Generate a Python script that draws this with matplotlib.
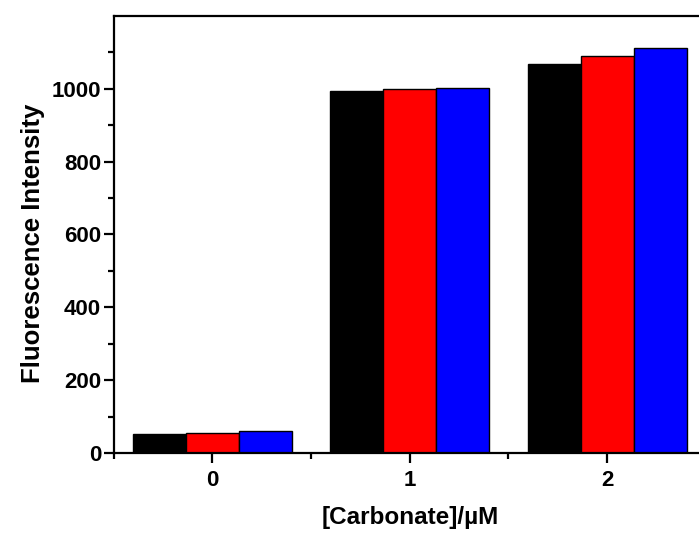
import matplotlib
matplotlib.use("Agg")
import matplotlib.pyplot as plt
import numpy as np

plt.rcParams['font.family'] = ['Liberation Sans', 'DejaVu Sans']
plt.rcParams['font.weight'] = 'bold'

categories = ["0", "1", "2"]
series_black = [52, 994, 1068]
series_red = [55, 999, 1090]
series_blue = [60, 1003, 1110]
colors = ["#000000", "#ff0000", "#0000ff"]

fig = plt.figure(figsize=(6.99, 5.35), dpi=100)
ax = fig.add_axes([0.1624, 0.1527, 0.8476, 0.818])

x = np.arange(len(categories))
w = 0.268
for i, (vals, c) in enumerate(zip([series_black, series_red, series_blue], colors)):
    ax.bar(x + (i - 1) * w, vals, width=w, color=c, edgecolor="black", linewidth=1.0)

ax.set_xlim(-0.5, 2.5)
ax.set_ylim(0, 1200)
ax.set_xticks(x)
ax.set_xticklabels(categories)
ax.set_xticks([-0.5, 0.5, 1.5, 2.5], minor=True)
ax.set_yticks([0, 200, 400, 600, 800, 1000])
ax.set_yticks([100, 300, 500, 700, 900, 1100], minor=True)

for s in ax.spines.values():
    s.set_linewidth(1.6)
ax.tick_params(axis="both", which="major", length=7, width=1.6, labelsize=16, pad=2)
ax.tick_params(axis="both", which="minor", length=4, width=1.6)
ax.tick_params(axis="x", which="major", pad=5)

ax.set_xlabel("[Carbonate]/µM", fontsize=17.5, fontweight="bold", labelpad=11)
ax.set_ylabel("Fluorescence Intensity", fontsize=18.5, fontweight="bold", labelpad=5)
ax.yaxis.label.set_y(0.48)

fig.savefig("out.png", dpi=100)
